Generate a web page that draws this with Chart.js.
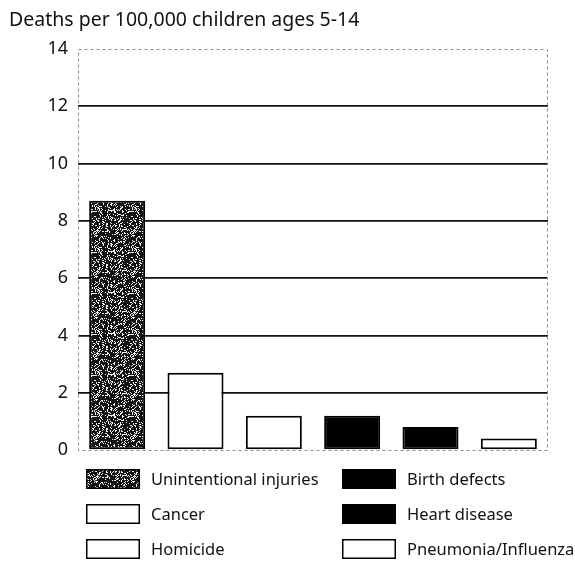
<!DOCTYPE html>
<html>
<head>
<meta charset="utf-8">
<script src="https://cdn.jsdelivr.net/npm/chart.js@4"></script>
<style>
  html, body { margin: 0; padding: 0; background: #fff; }
  #wrap { width: 575px; height: 561px; position: relative; }
</style>
</head>
<body>
<div id="wrap"><canvas id="deathsChart"></canvas></div>
<script>
// datos
const causas = ['Unintentional injuries', 'Cancer', 'Homicide', 'Birth defects', 'Heart disease', 'Pneumonia/Influenza'];
const tasas = [8.7, 2.7, 1.2, 1.2, 0.8, 0.4];
const yTicks = [0, 2, 4, 6, 8, 10, 12, 14];
const tituloEje = 'Deaths per 100,000 children ages 5-14';

const FONT = '"Noto Sans", "DejaVu Sans", sans-serif';
const INK = '#111';

// textura punteada para la barra de lesiones (determinista, no son datos)
function hacerTrama() {
  const w = 37, h = 41;
  const c = document.createElement('canvas');
  c.width = w; c.height = h;
  const g = c.getContext('2d');
  g.fillStyle = '#141414';
  g.fillRect(0, 0, w, h);
  g.fillStyle = '#f2f2f2';
  for (let y = 0; y < h; y++) {
    for (let x = 0; x < w; x++) {
      let k = (x * 374761393 + y * 668265263) >>> 0;
      k = Math.imul(k ^ (k >>> 13), 1274126177) >>> 0;
      if ((k >>> 24) < 60) g.fillRect(x, y, 1, 1);
    }
  }
  return g.createPattern(c, 'repeat');
}

const trama = hacerTrama();
const rellenos = [trama, '#fff', '#fff', '#000', '#000', '#fff'];

// marco punteado, titulo y leyenda en dos columnas
const extrasPlugin = {
  id: 'extras',
  beforeDatasetsDraw(chart) {
    const { ctx, chartArea: a } = chart;
    ctx.save();
    ctx.strokeStyle = '#8a8a8a';
    ctx.lineWidth = 1;
    ctx.setLineDash([3, 3]);
    ctx.strokeRect(a.left + 0.5, a.top + 0.5, a.right - a.left - 1, a.bottom - a.top);
    ctx.restore();
  },
  afterDraw(chart) {
    const { ctx } = chart;
    ctx.save();
    ctx.fillStyle = INK;
    ctx.font = '19.5px ' + FONT;
    ctx.textBaseline = 'alphabetic';
    ctx.textAlign = 'left';
    ctx.fillText(tituloEje, 9, 26);

    ctx.font = '16.5px ' + FONT;
    const colX = [86, 342];
    const rowY = [469, 504, 539];
    const boxW = 54, boxH = 20;
    const ds = chart.data.datasets[0];
    chart.data.labels.forEach((lab, i) => {
      const x = colX[Math.floor(i / 3)];
      const y = rowY[i % 3];
      ctx.fillStyle = ds.backgroundColor[i];
      ctx.fillRect(x, y, boxW, boxH);
      ctx.strokeStyle = '#000';
      ctx.lineWidth = 1.5;
      ctx.strokeRect(x + 0.75, y + 0.75, boxW - 1.5, boxH - 1.5);
      ctx.fillStyle = INK;
      ctx.textBaseline = 'middle';
      ctx.fillText(lab, x + 65, y + boxH / 2 + 1);
    });
    ctx.restore();
  }
};

new Chart(document.getElementById('deathsChart'), {
  type: 'bar',
  data: {
    labels: causas,
    datasets: [{
      data: tasas,
      backgroundColor: rellenos,
      borderColor: '#000',
      borderWidth: 2,
      borderSkipped: false,
      barPercentage: 0.715,
      categoryPercentage: 1.0
    }]
  },
  options: {
    responsive: true,
    maintainAspectRatio: false,
    animation: false,
    layout: { padding: { left: 0, top: 49, right: 27, bottom: 111 } },
    plugins: {
      legend: { display: false },
      tooltip: { enabled: false }
    },
    scales: {
      x: { display: false },
      y: {
        min: 0,
        max: 14,
        afterBuildTicks: (scale) => { scale.ticks = yTicks.map(v => ({ value: v })); },
        afterFit: (scale) => { scale.width = 78; },
        ticks: {
          color: INK,
          padding: 10,
          font: { family: FONT, size: 18 }
        },
        border: { display: false },
        grid: {
          drawTicks: false,
          lineWidth: 1.7,
          color: (c) => (c.tick && (c.tick.value === 0 || c.tick.value === 14)) ? 'rgba(0,0,0,0)' : '#111'
        }
      }
    }
  },
  plugins: [extrasPlugin]
});
</script>
</body>
</html>
